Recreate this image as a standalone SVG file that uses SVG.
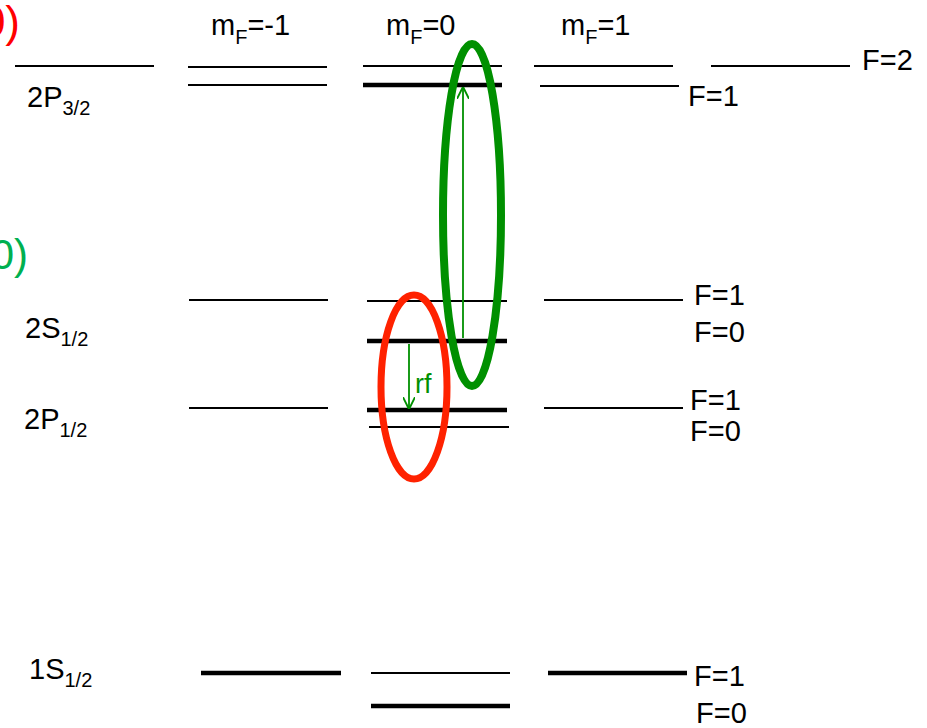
<svg xmlns="http://www.w3.org/2000/svg" width="927" height="728" viewBox="0 0 927 728">
<style>
text{font-family:"Liberation Sans",Arial,sans-serif;fill:#000}
.t{font-size:29px}
.s{font-size:20px}
.thin{stroke:#000;stroke-width:1.8;fill:none}
.thick{stroke:#000;stroke-width:4.5;fill:none}
.gl{stroke:#009000;stroke-width:1.8;fill:none}
</style>
<defs>
<marker id="ah" viewBox="0 0 10 10" refX="9" refY="5" markerWidth="12" markerHeight="12" markerUnits="userSpaceOnUse" orient="auto">
<path d="M0,0 L10,5 L0,10" fill="none" stroke="#009000" stroke-width="1.6"/>
</marker>
</defs>
<rect width="927" height="728" fill="#fff"/>
<text x="20" y="37" text-anchor="end" style="font-size:44px;fill:#ff0000">0)</text>
<text x="28" y="269" text-anchor="end" style="font-size:42px;fill:#00b050">0)</text>
<g id="headers">
<text class="t" x="211" y="35">m<tspan class="s" dy="9">F</tspan><tspan dy="-9">=-1</tspan></text>
<text class="t" x="386" y="35">m<tspan class="s" dy="9">F</tspan><tspan dy="-9">=0</tspan></text>
<text class="t" x="561" y="35">m<tspan class="s" dy="9">F</tspan><tspan dy="-9">=1</tspan></text>
</g>
<g id="level-2P32">
<line class="thin" x1="15" y1="66" x2="154" y2="66"/>
<text class="t" x="27" y="107">2P<tspan class="s" dy="8">3/2</tspan></text>
<line class="thin" x1="188" y1="67" x2="327" y2="67"/>
<line class="thin" x1="188" y1="85" x2="327" y2="85"/>
<line class="thin" x1="363" y1="66" x2="502" y2="66"/>
<line class="thick" x1="363" y1="85" x2="502" y2="85"/>
<line class="thin" x1="534" y1="66" x2="673" y2="66"/>
<line class="thin" x1="540" y1="86" x2="679" y2="86"/>
<line class="thin" x1="711" y1="66" x2="850" y2="66"/>
<text class="t" x="862" y="70">F=2</text>
<text class="t" x="688" y="106">F=1</text>
</g>
<g id="level-2S12">
<text class="t" x="25" y="338">2S<tspan class="s" dy="8">1/2</tspan></text>
<line class="thin" x1="189" y1="300" x2="328" y2="300"/>
<line class="thin" x1="367" y1="301" x2="507" y2="301"/>
<line class="thick" x1="367" y1="341" x2="507" y2="341"/>
<line class="thin" x1="544" y1="300" x2="683" y2="300"/>
<text class="t" x="694" y="305">F=1</text>
<text class="t" x="694" y="342">F=0</text>
</g>
<g id="level-2P12">
<text class="t" x="24" y="429">2P<tspan class="s" dy="8">1/2</tspan></text>
<line class="thin" x1="189" y1="408" x2="328" y2="408"/>
<line class="thick" x1="367" y1="410" x2="507" y2="410"/>
<line class="thin" x1="369" y1="427" x2="509" y2="427"/>
<line class="thin" x1="544" y1="408" x2="683" y2="408"/>
<text class="t" x="690" y="410">F=1</text>
<text class="t" x="690" y="441">F=0</text>
</g>
<g id="level-1S12">
<text class="t" x="29" y="679">1S<tspan class="s" dy="8">1/2</tspan></text>
<line class="thick" x1="201" y1="673" x2="341" y2="673"/>
<line class="thin" x1="371" y1="673" x2="510" y2="673"/>
<line class="thick" x1="371" y1="706" x2="510" y2="706"/>
<line class="thick" x1="548" y1="673" x2="687" y2="673"/>
<text class="t" x="694" y="686">F=1</text>
<text class="t" x="696" y="723">F=0</text>
</g>
<g id="connectors">
<line class="gl" x1="463" y1="338" x2="463" y2="88" marker-end="url(#ah)"/>
<line class="gl" x1="409" y1="344" x2="409" y2="408" marker-end="url(#ah)"/>
<text x="415" y="393" style="font-size:27px;fill:#009000">rf</text>
</g>
<g id="red-ellipse">
<ellipse cx="414" cy="387" rx="33" ry="92" fill="none" stroke="#ff2200" stroke-width="7"/>
</g>
<g id="green-ellipse">
<ellipse cx="472" cy="215" rx="29" ry="171" fill="none" stroke="#009000" stroke-width="8"/>
</g>
</svg>
